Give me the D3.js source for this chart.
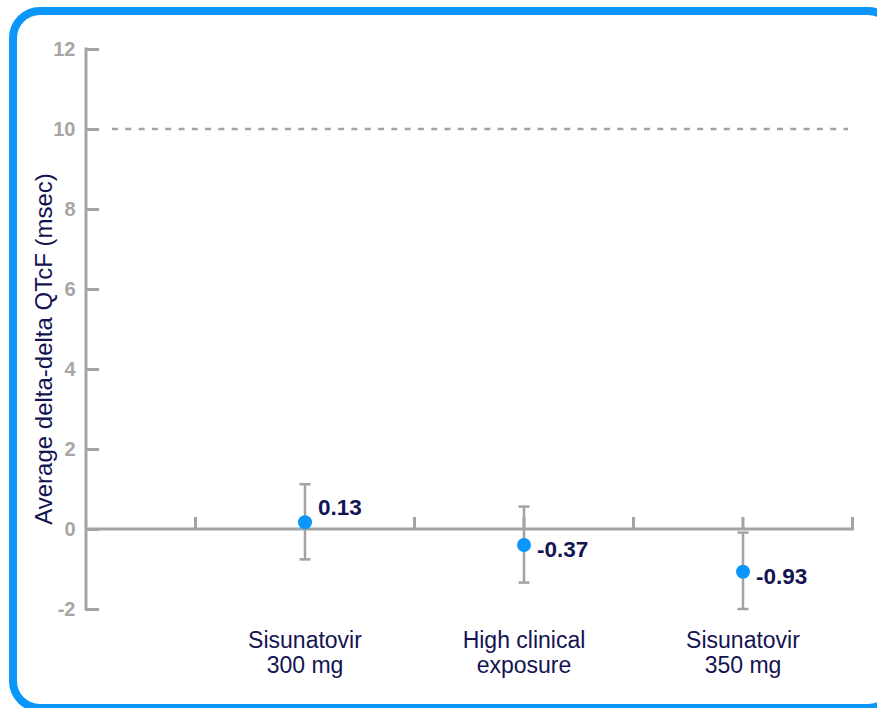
<!DOCTYPE html>
<html>
<head>
<meta charset="utf-8">
<script src="https://cdn.jsdelivr.net/npm/d3@7"></script>
<style>
  html, body { margin: 0; padding: 0; background: #ffffff; overflow: hidden; }
  text { font-family: "Liberation Sans", Arial, sans-serif; }
</style>
</head>
<body>
<div id="drawing"></div>
<script>
const width = 877;
const height = 708;

// data
const categories = [["Sisunatovir", "300 mg"], ["High clinical", "exposure"], ["Sisunatovir", "350 mg"]];
const pointValues = [0.17, -0.40, -1.07];
const pointLabels = ["0.13", "-0.37", "-0.93"];
const upperCI = [1.12, 0.56, -0.09];
const lowerCI = [-0.76, -1.34, -2.0];
const yTicks = [-2, 0, 2, 4, 6, 8, 10, 12];
const thresholdValue = 10;

const axisColor = "#a3a3a3";
const navy = "#141452";
const blue = "#0a96fa";

const svg = d3.select("#drawing").append("svg")
  .attr("width", width)
  .attr("height", height);

// rounded blue frame (runs off the right edge)
svg.append("rect")
  .attr("x", 13).attr("y", 11)
  .attr("width", 882).attr("height", 697)
  .attr("rx", 27).attr("ry", 27)
  .attr("fill", "#ffffff")
  .attr("stroke", blue)
  .attr("stroke-width", 8);

const xLeft = 86;
const xRight = 852.5;
const step = (xRight - xLeft) / 7;

const yScale = d3.scaleLinear().domain([-2, 12]).range([609, 49]);
const keys = categories.map((d) => d.join(" "));
const xScale = d3.scaleBand().domain(keys).range([xLeft + step, xRight]).padding(0);

// dashed 10 msec threshold
svg.append("line")
  .attr("x1", 112).attr("x2", 848)
  .attr("y1", yScale(thresholdValue)).attr("y2", yScale(thresholdValue))
  .attr("stroke", axisColor)
  .attr("stroke-width", 2.5)
  .attr("stroke-dasharray", "6,7.3");

// y axis
const yAxis = svg.append("g")
  .attr("transform", `translate(${xLeft},0)`)
  .call(d3.axisRight(yScale).tickValues(yTicks).tickSize(13).tickFormat(""));
yAxis.select(".domain").remove();
yAxis.selectAll("line").attr("stroke", axisColor).attr("stroke-width", 3);
svg.append("line")
  .attr("x1", xLeft).attr("x2", xLeft)
  .attr("y1", yScale(12) - 1.5).attr("y2", yScale(-2) + 1.5)
  .attr("stroke", axisColor).attr("stroke-width", 3);

svg.selectAll(".ytick-label")
  .data(yTicks)
  .enter()
  .append("text")
    .attr("class", "ytick-label")
    .attr("x", 75.5)
    .attr("y", (d) => yScale(d))
    .attr("dy", "0.36em")
    .attr("text-anchor", "end")
    .attr("font-size", 20)
    .attr("font-weight", "bold")
    .attr("fill", "#a6a6a6")
    .text((d) => d);

// x axis at zero with ticks at band edges and centres
const xTickPos = [];
keys.forEach((k) => {
  xTickPos.push(xScale(k));
  xTickPos.push(xScale(k) + xScale.bandwidth() / 2);
});
xTickPos.push(xRight);

svg.append("line")
  .attr("x1", xLeft).attr("x2", xRight + 1.5)
  .attr("y1", yScale(0)).attr("y2", yScale(0))
  .attr("stroke", axisColor).attr("stroke-width", 3);

svg.selectAll(".xtick")
  .data(xTickPos)
  .enter()
  .append("line")
    .attr("class", "xtick")
    .attr("x1", (d) => d).attr("x2", (d) => d)
    .attr("y1", yScale(0)).attr("y2", yScale(0) - 12)
    .attr("stroke", axisColor).attr("stroke-width", 3);

// category labels
const catLabels = svg.selectAll(".cat-label")
  .data(categories)
  .enter()
  .append("text")
    .attr("class", "cat-label")
    .attr("x", (d, i) => xScale(keys[i]) + xScale.bandwidth() / 2)
    .attr("y", 648)
    .attr("text-anchor", "middle")
    .attr("font-size", 23)
    .attr("fill", navy);
catLabels.each(function(d){
  const t = d3.select(this);
  const x = t.attr("x");
  d.forEach((line, j) => {
    t.append("tspan").attr("x", x).attr("dy", j === 0 ? 0 : 25).text(line);
  });
});

// y axis title
svg.append("text")
  .attr("transform", `translate(52, 349) rotate(-90)`)
  .attr("text-anchor", "middle")
  .attr("font-size", 24)
  .attr("fill", navy)
  .text("Average delta-delta QTcF (msec)");

// error bars
const cx = (i) => xScale(keys[i]) + xScale.bandwidth() / 2;
const bars = svg.selectAll(".errbar")
  .data(pointValues)
  .enter()
  .append("g")
    .attr("class", "errbar");
bars.append("line")
  .attr("x1", (d, i) => cx(i)).attr("x2", (d, i) => cx(i))
  .attr("y1", (d, i) => yScale(upperCI[i])).attr("y2", (d, i) => yScale(lowerCI[i]))
  .attr("stroke", axisColor).attr("stroke-width", 2.5);
bars.append("line")
  .attr("x1", (d, i) => cx(i) - 5.5).attr("x2", (d, i) => cx(i) + 5.5)
  .attr("y1", (d, i) => yScale(upperCI[i])).attr("y2", (d, i) => yScale(upperCI[i]))
  .attr("stroke", axisColor).attr("stroke-width", 2.5);
bars.append("line")
  .attr("x1", (d, i) => cx(i) - 5.5).attr("x2", (d, i) => cx(i) + 5.5)
  .attr("y1", (d, i) => yScale(lowerCI[i])).attr("y2", (d, i) => yScale(lowerCI[i]))
  .attr("stroke", axisColor).attr("stroke-width", 2.5);

// points
svg.selectAll(".pt")
  .data(pointValues)
  .enter()
  .append("circle")
    .attr("class", "pt")
    .attr("cx", (d, i) => cx(i))
    .attr("cy", (d) => yScale(d))
    .attr("r", 7)
    .attr("fill", blue);

// value labels
svg.selectAll(".val-label")
  .data(pointLabels)
  .enter()
  .append("text")
    .attr("class", "val-label")
    .attr("x", (d, i) => cx(i) + 13)
    .attr("y", (d, i) => yScale(pointValues[i]) + (pointValues[i] >= 0 ? -7 : 12))
    .attr("font-size", 22.5)
    .attr("font-weight", "bold")
    .attr("fill", navy)
    .text((d) => d);
</script>
</body>
</html>
